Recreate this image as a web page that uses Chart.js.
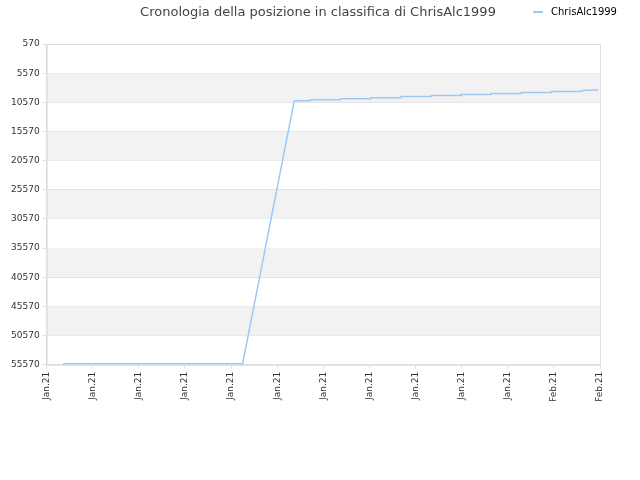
<!DOCTYPE html>
<html><head><meta charset="utf-8">
<script src="https://cdn.jsdelivr.net/npm/chart.js@4/dist/chart.umd.min.js"></script>
<style>
body{margin:0;background:#fff;font-family:"DejaVu Sans",sans-serif}
#wrap{position:relative;width:640px;height:480px}
#title{position:absolute;left:0;width:636px;top:4px;text-align:center;font-size:13px;color:#444}
#leg{position:absolute;left:533px;top:6px;font-size:10px;color:#000}
#leg span{display:inline-block;width:10px;height:0;border-top:2px solid #9ec9f2;vertical-align:middle;margin-right:8px}
</style></head><body>
<div id="wrap">
<canvas id="c" width="640" height="480"></canvas>
<div id="title">Cronologia della posizione in classifica di ChrisAlc1999</div>
<div id="leg"><span></span>ChrisAlc1999</div>
</div>
<script>
// tick labels along the time axis
var dateLabels = ["Jan.21","Jan.21","Jan.21","Jan.21","Jan.21","Jan.21","Jan.21","Jan.21","Jan.21","Jan.21","Jan.21","Feb.21","Feb.21"];
var yTicks = [570,5570,10570,15570,20570,25570,30570,35570,40570,45570,50570,55570];
// position over time (x in label units)
var timeX = [0.35,4.25,5.37,5.37,5.72,5.72,6.37,6.37,7.03,7.03,7.68,7.68,8.34,8.34,8.99,8.99,9.64,9.64,10.30,10.30,10.95,10.95,11.61,11.61,11.96];
var rank  = [55400,55400,10290,10290,10290,10110,10110,9940,9940,9770,9770,9590,9590,9420,9420,9250,9250,9070,9070,8900,8900,8730,8730,8550,8470];

var points = timeX.map(function(x,i){return {x:x,y:rank[i]};});

var bands = {
  id:'bands',
  beforeDatasetsDraw:function(chart){
    var ctx=chart.ctx, y=chart.scales.y, a=chart.chartArea;
    ctx.save();ctx.fillStyle='#f2f2f2';
    for(var i=1;i<yTicks.length-1;i+=2){
      var t=y.getPixelForValue(yTicks[i]), b=y.getPixelForValue(yTicks[i+1]);
      ctx.fillRect(a.left,t,a.right-a.left,b-t);
    }
    ctx.strokeStyle='#dddddd';ctx.lineWidth=1;
    ctx.strokeRect(a.left+0.5,a.top+0.5,a.right-a.left,a.bottom-a.top);
    ctx.restore();
  }
};

new Chart('c',{
  type:'line',
  data:{datasets:[{data:points,borderColor:'#9ec9f2',borderWidth:1.5,pointRadius:0,tension:0,fill:false}]},
  options:{
    responsive:false,animation:false,
    layout:{padding:{top:44,right:40,left:8,bottom:75}},
    plugins:{legend:{display:false},title:{display:false},tooltip:{enabled:false}},
    scales:{
      x:{type:'linear',min:0,max:12,
        afterBuildTicks:function(s){s.ticks=dateLabels.map(function(l,i){return {value:i};});},
        ticks:{callback:function(v){return dateLabels[v];},maxRotation:90,minRotation:90,font:{size:9,family:'DejaVu Sans'},color:'#333',autoSkip:false},
        grid:{color:'#e0e0e0',drawOnChartArea:false,tickLength:4},border:{color:'#ddd'}},
      y:{reverse:true,min:570,max:55570,
        afterBuildTicks:function(s){s.ticks=yTicks.map(function(v){return {value:v};});},
        ticks:{callback:function(v){return String(v);},font:{size:9,family:'DejaVu Sans'},color:'#333',autoSkip:false},
        grid:{color:'#dddddd',tickLength:4},border:{color:'#ddd'}}
    }
  },
  plugins:[bands]
});
</script>
</body></html>
